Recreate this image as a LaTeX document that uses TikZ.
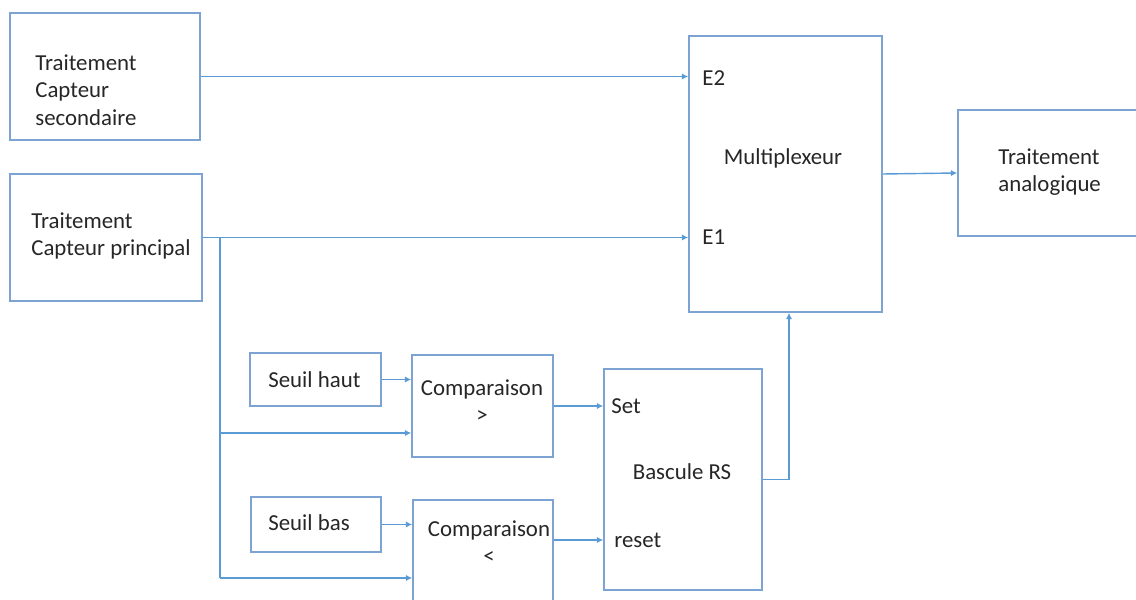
\documentclass[tikz,border=0pt]{standalone}
\usepackage{fontspec}
\setmainfont{Carlito}
\usepackage{tikz}
\usetikzlibrary{positioning, arrows.meta}
\definecolor{cadre}{RGB}{125,163,211}
\definecolor{fil}{RGB}{91,155,213}
\definecolor{texte}{RGB}{38,38,38}

\begin{document}
\begin{tikzpicture}[
                >={Latex[length=3.6pt,width=3.6pt]},
                bloc/.style={draw=cadre, line width=0.9pt, rectangle, inner sep=0pt},
                etiq/.style={font=\fontsize{13pt}{15.6pt}\selectfont, text=texte, inner sep=0pt},
                lien/.style={->, draw=fil, line width=0.8pt}
            ]
            \clip (0,0) rectangle (22.72,11.98);
            % Blocs
            \node[bloc, minimum width=3.8cm, minimum height=2.54cm] (sec) at (2.1, 10.45) {};
            \node[bloc, minimum width=3.84cm, minimum height=2.54cm] (prin) at (2.12, 7.23) {};
            \node[bloc, minimum width=3.86cm, minimum height=5.52cm] (mux) at (15.71, 8.5) {};
            \node[bloc, minimum width=4.2cm, minimum height=2.52cm] (analog) at (21.26, 8.52) {};
            \node[bloc, minimum width=2.62cm, minimum height=1.06cm] (seuilH) at (6.31, 4.39) {};
            \node[bloc, minimum width=2.82cm, minimum height=2.04cm] (compH) at (9.65, 3.86) {};
            \node[bloc, minimum width=3.16cm, minimum height=4.42cm] (rs) at (13.66, 2.39) {};
            \node[bloc, minimum width=2.6cm, minimum height=1.1cm] (seuilB) at (6.32, 1.49) {};
            \node[bloc, minimum width=2.8cm, minimum height=2.6cm] (compB) at (9.66, 0.68) {};

            % Textes
            \node[etiq, anchor=west, align=left] (secT) at (0.7, 10.18) {Traitement\\Capteur\\secondaire};
            \node[etiq, anchor=west, align=left] (prinT) at (0.62, 7.26) {Traitement\\Capteur principal};
            \node[etiq, anchor=west] (e2) at (14.04, 10.42) {E2};
            \node[etiq] (muxT) at (15.66, 8.82) {Multiplexeur};
            \node[etiq, anchor=west] (e1) at (14.04, 7.24) {E1};
            \node[etiq, anchor=west, align=left] (analogT) at (19.96, 8.54) {Traitement\\analogique};
            \node[etiq, anchor=west] (seuilHT) at (5.36, 4.38) {Seuil haut};
            \node[etiq, anchor=west] (seuilBT) at (5.36, 1.52) {Seuil bas};
            \node[etiq, align=center] (compHT) at (9.64, 3.96) {Comparaison\\>};
            \node[etiq, align=center] (compBT) at (9.78, 1.14) {Comparaison\\<};
            \node[etiq, anchor=west] (set) at (12.22, 3.86) {Set};
            \node[etiq] (rsT) at (13.64, 2.54) {Bascule RS};
            \node[etiq, anchor=west] (rst) at (12.28, 1.18) {reset};

            % Liaisons
            \coordinate (br) at (4.4, 7.23);
            \draw[lien] (sec.east) -- (sec.east -| mux.west);
            \draw[lien] (prin.east) -- (prin.east -| mux.west);
            \draw[draw=fil, line width=0.8pt] (br) -- (4.4, 0.42);
            \draw[lien] (4.4, 3.32) -- (compH.west |- 0,3.32);
            \draw[lien] (4.4, 0.42) -- (compB.west |- 0,0.42);
            \draw[lien] (seuilH.east) -- (seuilH.east -| compH.west);
            \draw[lien] (seuilB.east) -- (seuilB.east -| compB.west);
            \draw[lien] (compH.east |- set) -- (rs.west |- set);
            \draw[lien] (compB.east |- rst) -- (rs.west |- rst);
            \draw[lien] (rs.east) -| ([xshift=0.07cm]mux.south);
            \draw[lien] (mux.east) -- (analog.west);
            \end{tikzpicture}
\end{document}
